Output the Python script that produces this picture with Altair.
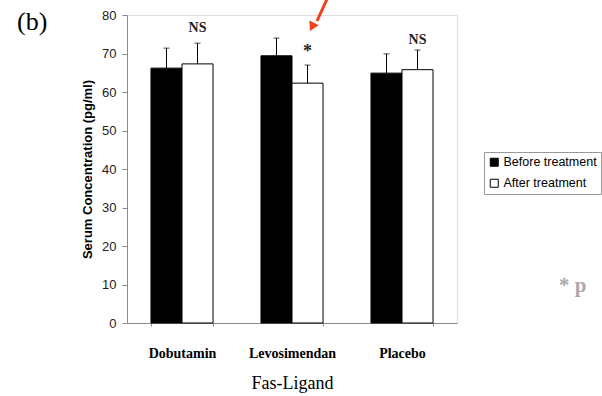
import altair as alt
import pandas as pd

groups = ["Dobutamin", "Levosimendan", "Placebo"]
phases = ["Before treatment", "After treatment"]
before_mean = [66.2, 69.4, 64.9]
before_sd = [5.2, 4.6, 5.0]
after_mean = [67.3, 62.3, 65.8]
after_sd = [5.4, 4.7, 5.1]
marks = ["NS", "*", "NS"]
mark_y = [76.6, 70.4, 73.5]

rows = []
for i, g in enumerate(groups):
    rows.append({"group": g, "phase": phases[0], "mean": before_mean[i],
                 "upper": before_mean[i] + before_sd[i]})
    rows.append({"group": g, "phase": phases[1], "mean": after_mean[i],
                 "upper": after_mean[i] + after_sd[i]})
df = pd.DataFrame(rows)

notes = pd.DataFrame({"group": groups, "phase": [phases[1]] * 3,
                      "label": marks, "y": mark_y})

SERIF = "Liberation Serif"
SANS = "Liberation Sans"
AXIS_GREY = "#8a8a8a"

x_axis = alt.Axis(title="Fas-Ligand", labelAngle=0,
                  labelFont=SERIF, labelFontWeight="bold",
                  labelFontSize=14, labelColor="black",
                  labelPadding=20, titleFont=SERIF,
                  titleFontSize=18, titleFontWeight="normal",
                  titleColor="black", titlePadding=14,
                  tickBand="extent", tickSize=3,
                  tickColor=AXIS_GREY, domainColor=AXIS_GREY)
y_axis = alt.Axis(title="Serum Concentration (pg/ml)",
                  values=list(range(0, 81, 10)), grid=False,
                  labelFont=SANS, labelFontSize=13,
                  labelColor="#222", labelPadding=6,
                  tickSize=5, tickColor=AXIS_GREY,
                  domainColor=AXIS_GREY, titleFont=SANS,
                  titleFontSize=13, titleFontWeight="bold",
                  titleColor="black", titlePadding=7)
x_scale = alt.Scale(paddingInner=0.436, paddingOuter=0.218)
y_scale = alt.Scale(domain=[0, 80], nice=False)


def x_enc():
    return alt.X("group:N", sort=groups, scale=x_scale, axis=x_axis)


def y_enc(field):
    return alt.Y(field, scale=y_scale, axis=y_axis)


xo_enc = alt.XOffset("phase:N", sort=phases,
                     scale=alt.Scale(paddingInner=0, paddingOuter=0))

bars = alt.Chart(df).mark_bar(stroke="black", strokeWidth=1).encode(
    x=x_enc(),
    xOffset=xo_enc,
    y=y_enc("mean:Q"),
    fill=alt.Fill("phase:N", sort=phases,
                  scale=alt.Scale(domain=phases, range=["black", "white"]),
                  legend=alt.Legend(title=None, orient="none",
                                    legendX=357, legendY=137,
                                    symbolType="square", symbolSize=64,
                                    symbolStrokeColor="black",
                                    symbolStrokeWidth=1, labelOffset=3,
                                    labelFont=SANS, labelFontSize=12.5,
                                    labelColor="black", rowPadding=8,
                                    padding=4, strokeColor="#999",
                                    fillColor="white", labelLimit=200)),
)

err = alt.Chart(df).mark_rule(color="black", strokeWidth=1).encode(
    x=x_enc(), xOffset=xo_enc, y=y_enc("mean:Q"), y2="upper:Q")

caps = alt.Chart(df).mark_tick(color="black", size=6, thickness=1).encode(
    x=x_enc(), xOffset=xo_enc, y=y_enc("upper:Q"))

note_text = alt.Chart(notes).mark_text(font=SERIF, fontSize=14,
                                       fontWeight="bold", color="#222",
                                       baseline="middle").encode(
    x=x_enc(), xOffset=xo_enc, y=y_enc("y:Q"), text="label:N",
    size=alt.condition("datum.label == '*'", alt.value(18), alt.value(14)))

panel = alt.Chart(pd.DataFrame({"t": ["(b)"]})).mark_text(
    font=SERIF, fontSize=26, align="left", baseline="middle", color="black"
).encode(x=alt.value(-110), y=alt.value(7), text="t:N")

pnote = alt.Chart(pd.DataFrame({"t": ["* p"]})).mark_text(
    font=SERIF, fontSize=21, fontWeight="bold", align="left",
    baseline="middle", color="#aaaaaa"
).encode(x=alt.value(432), y=alt.value(271), text="t:N")

arrow_line = alt.Chart(pd.DataFrame({"k": [0]})).mark_rule(
    color="#f0401c", strokeWidth=3
).encode(x=alt.value(201), x2=alt.value(190), y=alt.value(-18),
         y2=alt.value(6))

arrow_head = alt.Chart(pd.DataFrame({"k": [0]})).mark_point(
    shape="triangle-down", filled=True, color="#f0401c", size=110,
    angle=27, opacity=1
).encode(x=alt.value(185), y=alt.value(12))

chart = alt.layer(bars, err, caps, note_text, panel, pnote,
                  arrow_line, arrow_head).properties(
    width=330, height=308,
    autosize=alt.AutoSizeParams(type="none"),
    padding={"left": 127, "top": 15, "right": 145, "bottom": 73},
).configure_view(stroke=None).configure(background="white")

chart.save("out.html", embed_options={"renderer": "svg", "actions": False})
